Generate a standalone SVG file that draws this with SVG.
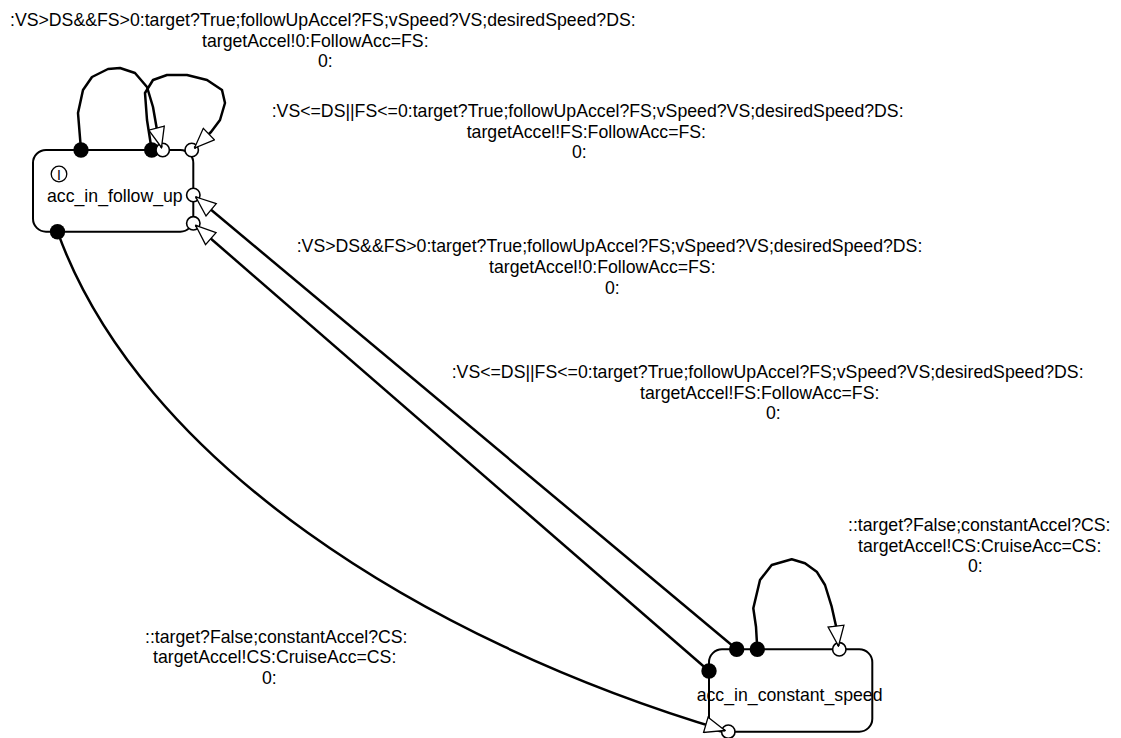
<svg xmlns="http://www.w3.org/2000/svg" width="1121" height="738" viewBox="0 0 1121 738">
<style>
.state{fill:#fff;stroke:#000;stroke-width:2}
.dot{fill:#000}
.port{fill:#fff;stroke:#000;stroke-width:1.6}
.edge{fill:none;stroke:#000;stroke-width:2.5;stroke-linejoin:round;marker-end:url(#arr)}
.name{font-family:"Liberation Sans",Arial,Helvetica,sans-serif;font-size:17.7px;fill:#000}
.lbl{font-family:"Liberation Sans",Arial,Helvetica,sans-serif;font-size:17.7px;fill:#000}
.init{fill:none;stroke:#000;stroke-width:1.3}
</style>
<defs>
<marker id="arr" markerUnits="userSpaceOnUse" markerWidth="22" markerHeight="18" viewBox="-1 -1 22 18" refX="20" refY="8" orient="auto">
<path d="M0,0 L20,8 L0,16 z" fill="#fff" stroke="#000" stroke-width="1.3"/>
</marker>
</defs>
<rect width="1121" height="738" fill="#fff"/>

<g id="acc_in_follow_up">
<rect class="state" x="33" y="150" width="160.3" height="81.7" rx="13"/>
<circle class="init" cx="59" cy="174" r="7.8"/>
<text class="name" x="59" y="179.5" text-anchor="middle" style="font-size:14px">I</text>
<text class="name" x="47" y="201.7">acc_in_follow_up</text>
<circle class="dot" cx="81" cy="150" r="7.7"/>
<circle class="dot" cx="151.7" cy="150" r="7.7"/>
<circle class="dot" cx="57.5" cy="231.7" r="7.7"/>
<circle class="port" cx="162.7" cy="150" r="6.7"/>
<circle class="port" cx="191.7" cy="150" r="6.7"/>
<circle class="port" cx="193.3" cy="195" r="6.7"/>
<circle class="port" cx="193.3" cy="223.3" r="6.7"/>
</g>

<g id="acc_in_constant_speed">
<rect class="state" x="709" y="649.3" width="163.3" height="82.4" rx="13"/>
<text class="name" x="696.7" y="700.5">acc_in_constant_speed</text>
<circle class="dot" cx="736.7" cy="649.3" r="7.7"/>
<circle class="dot" cx="757.3" cy="649.3" r="7.7"/>
<circle class="dot" cx="709" cy="671" r="7.7"/>
<circle class="port" cx="839.3" cy="649.3" r="6.7"/>
<circle class="port" cx="728.3" cy="731.7" r="6.7"/>
</g>

<g id="connectors">
<path class="edge" d="M81,150 L78,113 L83,90 L92,77 L108,69 L120,68 L135,73 L147,87 L153,107 L157,130 L161.5,147.5"/>
<path class="edge" d="M151.7,150 L147,120 L145,93 L153,80 L167,75 L187,75 L207,80 L222,90 L225,103 L220,120 L211,132 L194.5,148"/>
<path class="edge" d="M736.7,649.3 L195.8,197"/>
<path class="edge" d="M709,671 L195.7,225.5"/>
<path class="edge" d="M57.5,231.7 C140,460 420,640 725,730.5"/>
<path class="edge" d="M757.3,649.3 L756,626.7 L753.3,608.3 L760,580 L771.7,565 L791.7,559.3 L805,563.3 L816.7,571.7 L825,585 L831.7,606.7 L836,626 L838.5,646"/>
</g>

<g id="labels">
<text class="lbl" x="10" y="26">:VS&gt;DS&amp;&amp;FS&gt;0:target?True;followUpAccel?FS;vSpeed?VS;desiredSpeed?DS:</text>
<text class="lbl" x="202" y="46.5">targetAccel!0:FollowAcc=FS:</text>
<text class="lbl" x="318" y="67">0:</text>

<text class="lbl" x="271.7" y="117">:VS&lt;=DS||FS&lt;=0:target?True;followUpAccel?FS;vSpeed?VS;desiredSpeed?DS:</text>
<text class="lbl" x="466.7" y="137.5">targetAccel!FS:FollowAcc=FS:</text>
<text class="lbl" x="572" y="158">0:</text>

<text class="lbl" x="296.7" y="252">:VS&gt;DS&amp;&amp;FS&gt;0:target?True;followUpAccel?FS;vSpeed?VS;desiredSpeed?DS:</text>
<text class="lbl" x="489" y="273">targetAccel!0:FollowAcc=FS:</text>
<text class="lbl" x="605" y="294">0:</text>

<text class="lbl" x="451.7" y="378">:VS&lt;=DS||FS&lt;=0:target?True;followUpAccel?FS;vSpeed?VS;desiredSpeed?DS:</text>
<text class="lbl" x="640" y="398.5">targetAccel!FS:FollowAcc=FS:</text>
<text class="lbl" x="766" y="419">0:</text>

<text class="lbl" x="848" y="531">::target?False;constantAccel?CS:</text>
<text class="lbl" x="858" y="552">targetAccel!CS:CruiseAcc=CS:</text>
<text class="lbl" x="968" y="572">0:</text>

<text class="lbl" x="145" y="643">::target?False;constantAccel?CS:</text>
<text class="lbl" x="153" y="663">targetAccel!CS:CruiseAcc=CS:</text>
<text class="lbl" x="262" y="684">0:</text>
</g>
</svg>
